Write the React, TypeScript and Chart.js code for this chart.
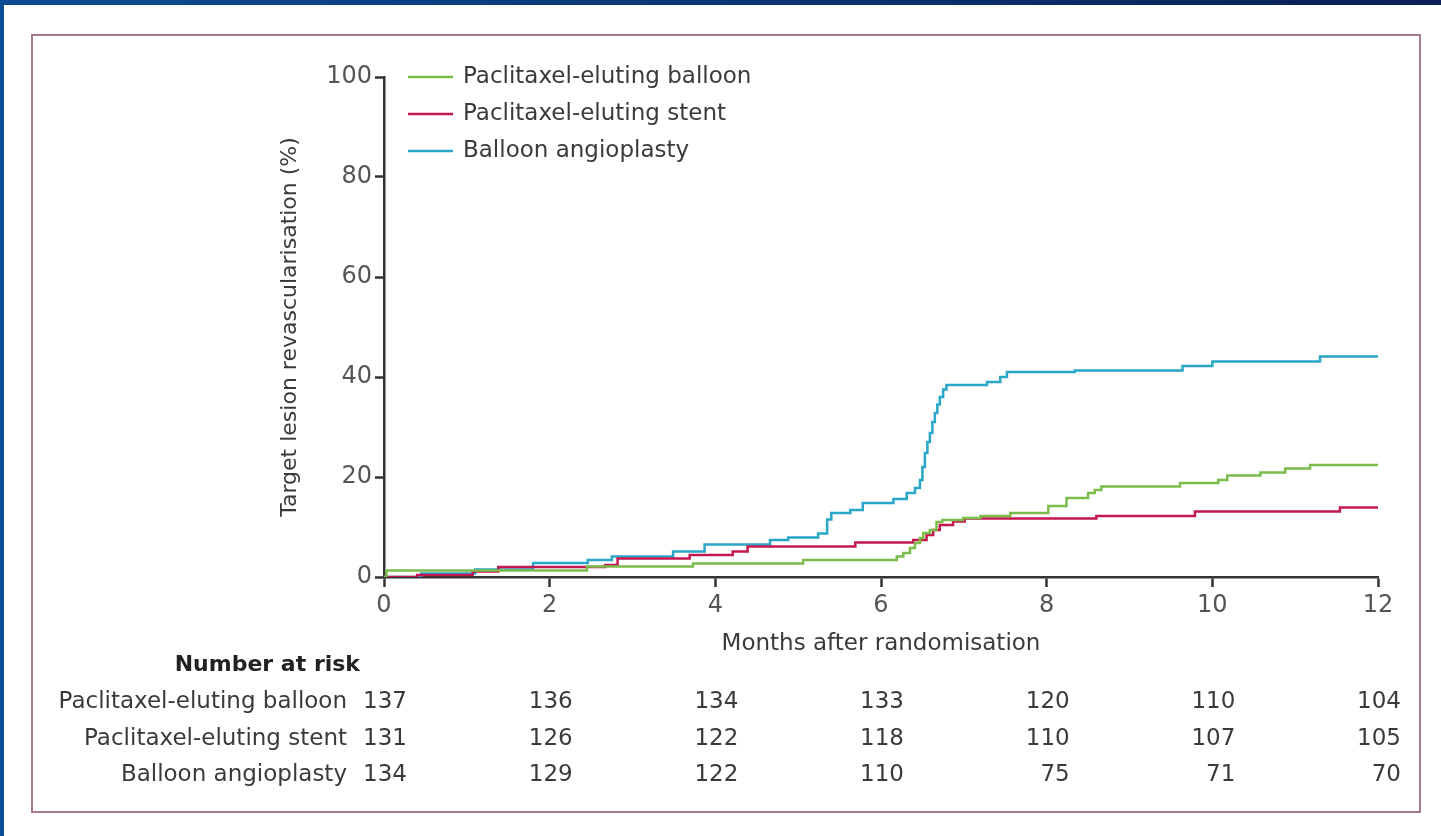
import React, { useEffect, useRef } from "react";
import { Chart, registerables } from "chart.js";

Chart.register(...registerables);

const FONT = '"DejaVu Sans", "Open Sans", sans-serif';

const seriesNames = ["Paclitaxel-eluting balloon", "Paclitaxel-eluting stent", "Balloon angioplasty"];
const seriesColors = ["#7bbd4a", "#c4174f", "#2aa6c9"];

// Paclitaxel-eluting balloon (months, cumulative %)
const balloonMonths = [0, 0.03, 2.45, 3.73, 5.06, 6.19, 6.27, 6.35, 6.41, 6.47, 6.51, 6.59, 6.67, 6.74, 6.99, 7.2, 7.56, 8.02, 8.24, 8.5, 8.58, 8.66, 9.61, 10.07, 10.18, 10.58, 10.88, 11.18, 12];
const balloonValues = [0, 1.3, 2.1, 2.7, 3.4, 4.1, 4.8, 5.8, 6.8, 7.8, 8.8, 9.4, 11.0, 11.4, 11.8, 12.2, 12.8, 14.2, 15.8, 16.8, 17.4, 18.1, 18.8, 19.4, 20.3, 20.9, 21.7, 22.4, 22.4];

// Paclitaxel-eluting stent
const stentMonths = [0, 0.4, 1.07, 1.38, 2.67, 2.82, 3.69, 4.21, 4.39, 5.69, 6.39, 6.55, 6.63, 6.71, 6.87, 7.01, 8.6, 9.79, 11.54, 12];
const stentValues = [0, 0.4, 1.1, 2.0, 2.4, 3.7, 4.4, 5.1, 6.1, 6.9, 7.4, 8.4, 9.4, 10.4, 11.1, 11.7, 12.2, 13.1, 13.9, 13.9];

// Balloon angioplasty
const angioMonths = [0, 0.45, 1.1, 1.8, 2.46, 2.75, 3.49, 3.87, 4.66, 4.88, 5.24, 5.35, 5.4, 5.63, 5.78, 6.15, 6.31, 6.41, 6.47, 6.5, 6.53, 6.56, 6.59, 6.62, 6.65, 6.68, 6.71, 6.75, 6.79, 7.28, 7.44, 7.52, 8.34, 9.64, 10.0, 11.3, 12];
const angioValues = [0, 0.7, 1.5, 2.8, 3.4, 4.1, 5.1, 6.5, 7.4, 7.9, 8.7, 11.5, 12.8, 13.4, 14.8, 15.6, 16.8, 17.8, 19.4, 22.0, 24.8, 27.0, 28.8, 31.0, 32.8, 34.5, 36.0, 37.5, 38.4, 39.0, 40.0, 41.0, 41.3, 42.2, 43.1, 44.1, 44.1];

const riskMonths = [0, 2, 4, 6, 8, 10, 12];
const riskBalloon = [137, 136, 134, 133, 120, 110, 104];
const riskStent = [131, 126, 122, 118, 110, 107, 105];
const riskAngio = [134, 129, 122, 110, 75, 71, 70];

const xTitle = "Months after randomisation";
const yTitle = "Target lesion revascularisation (%)";
const riskTitle = "Number at risk";

const toPoints = (xs: number[], ys: number[]) => xs.map((x, i) => ({ x, y: ys[i] }));

const decorPlugin = {
  id: "decor",
  beforeDraw(chart: any) {
    const ctx = chart.ctx as CanvasRenderingContext2D;
    const W = chart.width;
    const H = chart.height;
    ctx.save();
    ctx.fillStyle = "#ffffff";
    ctx.fillRect(0, 0, W, H);
    const g = ctx.createLinearGradient(0, 0, W, 0);
    g.addColorStop(0, "#0d4c94");
    g.addColorStop(1, "#0a1f55");
    ctx.fillStyle = g;
    ctx.fillRect(0, 0, W, 5);
    ctx.fillStyle = "#0b4d97";
    ctx.fillRect(0, 0, 4, H);
    ctx.strokeStyle = "#a87a8b";
    ctx.lineWidth = 2;
    ctx.strokeRect(32, 35, 1388, 777);
    ctx.restore();
  },
  afterDraw(chart: any) {
    const ctx = chart.ctx as CanvasRenderingContext2D;
    const xs = chart.scales.x;
    const area = chart.chartArea;
    ctx.save();
    // Legend
    ctx.font = `23px ${FONT}`;
    ctx.textBaseline = "middle";
    ctx.textAlign = "left";
    const legendY = [77, 114, 151];
    seriesNames.forEach((name, i) => {
      ctx.strokeStyle = seriesColors[i];
      ctx.lineWidth = 2.5;
      ctx.beginPath();
      ctx.moveTo(408, legendY[i]);
      ctx.lineTo(453, legendY[i]);
      ctx.stroke();
      ctx.fillStyle = "#3a3a3a";
      ctx.fillText(name, 463, legendY[i]);
    });
    // Y title
    ctx.save();
    ctx.translate(290, (area.top + area.bottom) / 2);
    ctx.rotate(-Math.PI / 2);
    ctx.textAlign = "center";
    ctx.fillStyle = "#3a3a3a";
    ctx.font = `22px ${FONT}`;
    ctx.fillText(yTitle, 0, 0);
    ctx.restore();
    // Number at risk
    ctx.textAlign = "right";
    ctx.fillStyle = "#222222";
    ctx.font = `bold 22px ${FONT}`;
    ctx.fillText(riskTitle, 360, 665);
    ctx.font = `23px ${FONT}`;
    ctx.fillStyle = "#3a3a3a";
    const rows = [riskBalloon, riskStent, riskAngio];
    const rowY = [702, 739, 775];
    rows.forEach((vals, r) => {
      ctx.fillText(seriesNames[r], 347, rowY[r]);
      vals.forEach((v, c) => {
        const px = xs.getPixelForValue(riskMonths[c]);
        ctx.fillText(String(v), px + 23, rowY[r]);
      });
    });
    ctx.restore();
  },
};

export default function App() {
  const ref = useRef<HTMLCanvasElement | null>(null);
  useEffect(() => {
    if (!ref.current) return;
    const axisColor = "#333333";
    const tickFont = { size: 24, family: FONT };
    const chart = new Chart(ref.current, {
      type: "line",
      data: {
        datasets: [
          { label: seriesNames[0], data: toPoints(balloonMonths, balloonValues), borderColor: seriesColors[0], backgroundColor: seriesColors[0] },
          { label: seriesNames[1], data: toPoints(stentMonths, stentValues), borderColor: seriesColors[1], backgroundColor: seriesColors[1] },
          { label: seriesNames[2], data: toPoints(angioMonths, angioValues), borderColor: seriesColors[2], backgroundColor: seriesColors[2] },
        ],
      },
      options: {
        animation: false,
        responsive: false,
        devicePixelRatio: 1,
        layout: { padding: { left: 274, right: 63, top: 77, bottom: 179 } },
        elements: {
          line: { stepped: true, borderWidth: 2.5, tension: 0, fill: false },
          point: { radius: 0, hoverRadius: 0 },
        },
        plugins: { legend: { display: false }, tooltip: { enabled: false } },
        scales: {
          x: {
            type: "linear",
            min: 0,
            max: 12,
            ticks: { stepSize: 2, color: "#555555", font: tickFont, padding: 4, maxRotation: 0 },
            grid: { display: true, drawOnChartArea: false, drawTicks: true, tickLength: 10, tickWidth: 2.5, tickColor: axisColor },
            border: { display: true, color: axisColor, width: 2.5 },
            title: { display: true, text: xTitle, color: "#3a3a3a", font: { size: 23, family: FONT, lineHeight: 1.1 }, padding: 0 },
            afterFit: (s: any) => { s.height = 80; },
          },
          y: {
            type: "linear",
            min: 0,
            max: 100,
            ticks: { stepSize: 20, color: "#555555", font: tickFont, padding: 3 },
            grid: { display: true, drawOnChartArea: false, drawTicks: true, tickLength: 9, tickWidth: 2.5, tickColor: axisColor },
            border: { display: true, color: axisColor, width: 2.5 },
            afterFit: (s: any) => { s.width = 110; },
          },
        },
      } as any,
      plugins: [decorPlugin],
    });
    return () => chart.destroy();
  }, []);
  return (
    <div style={{ position: "fixed", left: 0, top: 0, width: 1441, height: 836, background: "#fff" }}>
      <canvas ref={ref} width={1441} height={836} style={{ display: "block" }} />
    </div>
  );
}
